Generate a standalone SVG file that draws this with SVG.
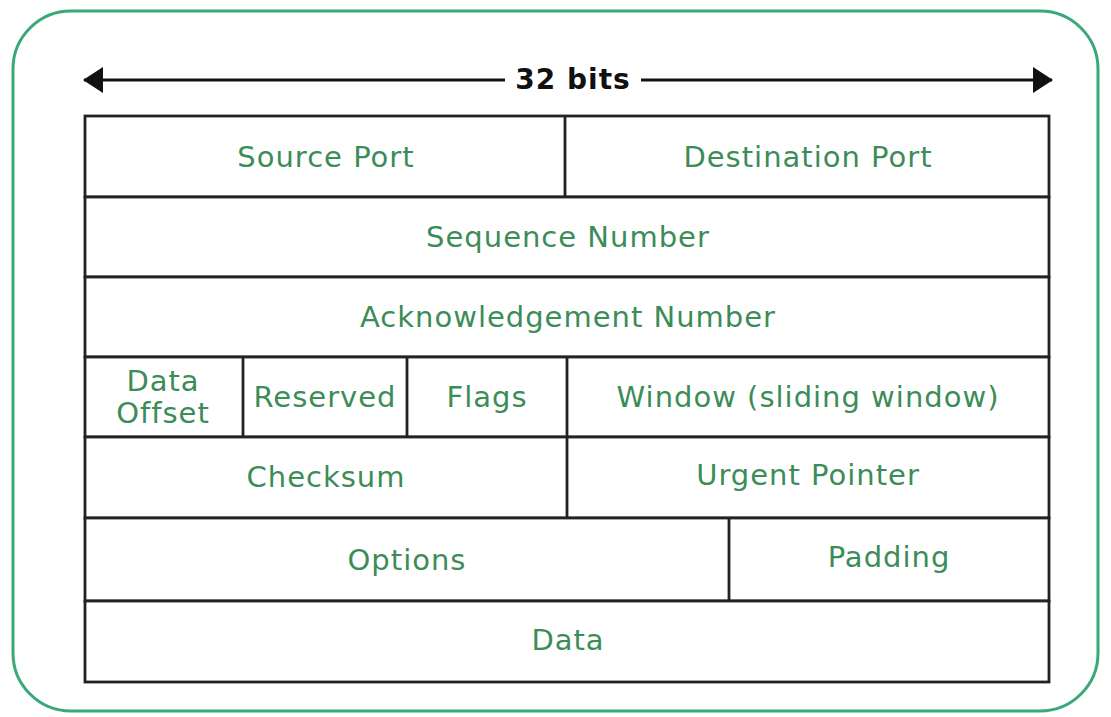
<svg xmlns="http://www.w3.org/2000/svg" width="1111" height="717" viewBox="0 0 1111 717">
  <defs>
    <marker id="head" viewBox="0 0 20 26" refX="19" refY="13" markerWidth="20" markerHeight="26" markerUnits="userSpaceOnUse" orient="auto-start-reverse">
      <path d="M0,0 L20,13 L0,26 z" fill="#111"/>
    </marker>
    <style>
      .frame { fill: #ffffff; stroke: #3aa878; stroke-width: 3; }
      .cell { fill: #ffffff; stroke: #222222; stroke-width: 2.8; }
      .div { stroke: #222222; stroke-width: 2.8; }
      .lbl { font-family: "DejaVu Sans", "Liberation Sans", sans-serif; font-size: 29px; letter-spacing: 1px; fill: #3c8c58; text-anchor: middle; dominant-baseline: central; }
      .bits { font-family: "DejaVu Sans", "Liberation Sans", sans-serif; font-size: 28px; letter-spacing: 1px; font-weight: bold; fill: #111; text-anchor: middle; dominant-baseline: central; }
    </style>
  </defs>

  <rect width="1111" height="717" fill="#ffffff"/>
  <rect class="frame" x="13" y="11" width="1085" height="700" rx="58" ry="58"/>

  <!-- width indicator -->
  <g id="connectors">
    <line x1="505" y1="80" x2="84" y2="80" stroke="#111" stroke-width="3" marker-end="url(#head)"/>
    <line x1="641" y1="80" x2="1052" y2="80" stroke="#111" stroke-width="3" marker-end="url(#head)"/>
  </g>
  <text class="bits" x="573" y="79">32 bits</text>

  <!-- header rows -->
  <g id="row-ports">
    <rect class="cell" x="85" y="116" width="964" height="81"/>
    <line class="div" x1="565" y1="116" x2="565" y2="197"/>
    <text class="lbl" x="326" y="157">Source Port</text>
    <text class="lbl" x="808" y="157">Destination Port</text>
  </g>
  <g id="row-seq">
    <rect class="cell" x="85" y="197" width="964" height="80"/>
    <text class="lbl" x="568" y="237">Sequence Number</text>
  </g>
  <g id="row-ack">
    <rect class="cell" x="85" y="277" width="964" height="80"/>
    <text class="lbl" x="568" y="317">Acknowledgement Number</text>
  </g>
  <g id="row-control">
    <rect class="cell" x="85" y="357" width="964" height="80"/>
    <line class="div" x1="243" y1="357" x2="243" y2="437"/>
    <line class="div" x1="407" y1="357" x2="407" y2="437"/>
    <line class="div" x1="567" y1="357" x2="567" y2="437"/>
    <text class="lbl" x="163" y="381">Data</text>
    <text class="lbl" x="163" y="413">Offset</text>
    <text class="lbl" x="325" y="397">Reserved</text>
    <text class="lbl" x="487" y="397">Flags</text>
    <text class="lbl" x="808" y="397">Window (sliding window)</text>
  </g>
  <g id="row-check">
    <rect class="cell" x="85" y="437" width="964" height="81"/>
    <line class="div" x1="567" y1="437" x2="567" y2="518"/>
    <text class="lbl" x="326" y="477">Checksum</text>
    <text class="lbl" x="808" y="475">Urgent Pointer</text>
  </g>
  <g id="row-options">
    <rect class="cell" x="85" y="518" width="964" height="83"/>
    <line class="div" x1="729" y1="518" x2="729" y2="601"/>
    <text class="lbl" x="407" y="560">Options</text>
    <text class="lbl" x="889" y="557">Padding</text>
  </g>
  <g id="row-data">
    <rect class="cell" x="85" y="601" width="964" height="81"/>
    <text class="lbl" x="568" y="640">Data</text>
  </g>
</svg>
